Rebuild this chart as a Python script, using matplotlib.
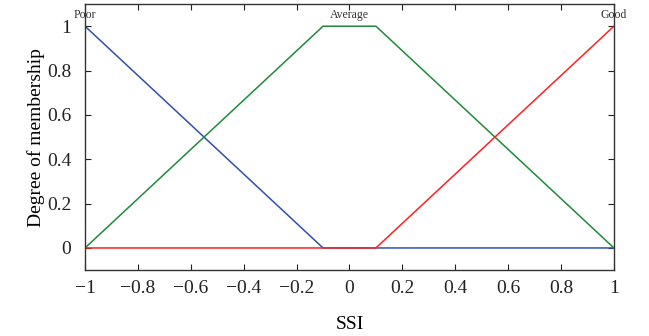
import matplotlib
matplotlib.use("Agg")
import matplotlib.pyplot as plt

plt.rcParams['font.family'] = ['Liberation Serif', 'DejaVu Serif']
plt.rcParams['axes.unicode_minus'] = True

poor_x = [-1, -0.1, 1]
poor_y = [1, 0, 0]
avg_x = [-1, -0.1, 0.1, 1]
avg_y = [0, 1, 1, 0]
good_x = [-1, 0.1, 1]
good_y = [0, 0, 1]
labels = ["Poor", "Average", "Good"]
label_x = [-1, 0, 1]
xticks = [-1, -0.8, -0.6, -0.4, -0.2, 0, 0.2, 0.4, 0.6, 0.8, 1]
yticks = [0, 0.2, 0.4, 0.6, 0.8, 1]

fig = plt.figure(figsize=(6.49, 3.36), dpi=100)
ax = fig.add_axes([0.131, 0.196, 0.815, 0.792])
ax.plot(poor_x, poor_y, color='#3050b0', lw=1.1)
ax.plot(avg_x, avg_y, color='#1f8a3a', lw=1.1)
ax.plot(good_x, good_y, color='#ff2020', lw=1.1)
for lx, lab in zip(label_x, labels):
    ax.text(lx, 1.025, lab, ha='center', va='bottom', fontsize=8.5, color='#333333')
ax.set_xlim(-1, 1)
ax.set_ylim(-0.1, 1.1)
ax.set_xticks(xticks)
ax.set_xticklabels(['−1' if t == -1 else ('1' if t == 1 else ('0' if t == 0 else ('−' if t < 0 else '') + f"{abs(t):.1f}")) for t in xticks])
ax.set_yticks(yticks)
ax.set_yticklabels(['0' if t == 0 else ('1' if t == 1 else f"{t:.1f}") for t in yticks])
ax.tick_params(direction='in', top=True, right=True, labelsize=14, length=4, width=0.8, colors='#222222')
ax.tick_params(axis='x', pad=7)
ax.tick_params(axis='y', pad=10)
for s in ax.spines.values():
    s.set_linewidth(1.0)
    s.set_color('#333333')
ax.set_xlabel('SSI', fontsize=14, labelpad=14)
ax.set_ylabel('Degree of membership', fontsize=14, labelpad=1)
fig.savefig('out.png', dpi=100)
